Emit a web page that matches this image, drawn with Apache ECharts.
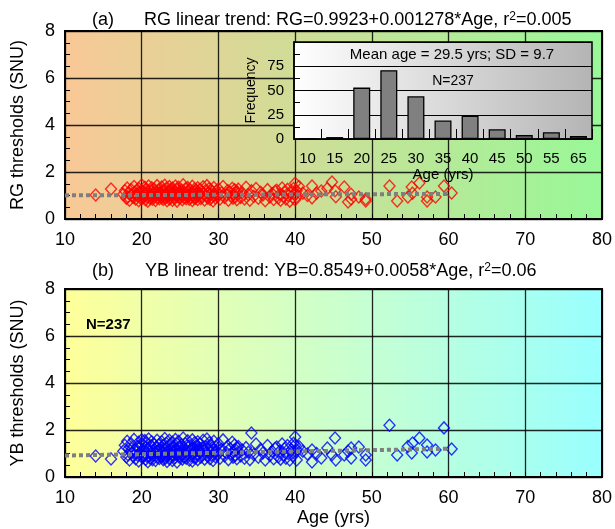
<!DOCTYPE html>
<html><head><meta charset="utf-8">
<script src="https://cdn.jsdelivr.net/npm/echarts@6/dist/echarts.min.js"></script>
<style>html,body{margin:0;padding:0;background:#fff}#c{width:615px;height:529px}</style>
</head><body><div id="c"></div>
<script>
// ---- data ----
const ages = [
14.0, 16.0,
17.6, 17.8, 18.0, 18.1, 18.2, 18.3, 18.4, 18.6, 18.7, 18.9, 19.0, 19.1, 19.2, 19.3, 19.4, 19.5, 19.6, 19.6, 19.7, 19.8, 19.9, 20.0, 20.1, 20.1, 20.2, 20.3, 20.4, 20.5, 20.5, 20.6, 20.7, 20.8, 20.8, 20.9, 21.0, 21.1, 21.2, 21.2, 21.3, 21.4, 21.5, 21.6, 21.6, 21.7, 21.8, 21.9, 22.0, 22.0, 22.1, 22.2, 22.3, 22.3, 22.4,
22.5, 22.6, 22.6, 22.7, 22.8, 22.8, 22.9, 23.0, 23.0, 23.1, 23.2, 23.2, 23.3, 23.4, 23.4, 23.5, 23.6, 23.6, 23.7, 23.8, 23.8, 23.9, 24.0, 24.0, 24.1, 24.2, 24.2, 24.3, 24.4, 24.4, 24.5, 24.6, 24.6, 24.7, 24.8, 24.8, 24.9, 25.0, 25.0, 25.1, 25.2, 25.3, 25.4, 25.4, 25.5, 25.6, 25.7, 25.8, 25.8, 25.9, 26.0, 26.1, 26.2, 26.2, 26.3, 26.4, 26.5, 26.6, 26.6, 26.7, 26.8, 26.9, 26.9, 27.0, 27.0, 27.1, 27.2, 27.3, 27.3, 27.4, 27.4,
27.5, 27.6, 27.7, 27.8, 27.9, 28.0, 28.1, 28.2, 28.3, 28.4, 28.5, 28.6, 28.7, 28.8, 28.9, 29.0, 29.0, 29.1, 29.2, 29.3, 29.4, 29.5, 29.6, 29.7, 29.8, 29.9, 30.0, 30.2, 30.4, 30.6, 30.8, 31.0, 31.2, 31.3, 31.5, 31.7, 31.8, 31.9, 32.0, 32.1, 32.2, 32.3, 32.4, 32.4,
32.6, 32.9, 33.1, 33.4, 33.6, 33.9, 34.1, 34.3, 34.6, 34.9, 35.2, 35.5, 35.8, 36.1, 36.4, 36.7, 37.0, 37.2, 37.4,
37.6, 37.8, 38.0, 38.1, 38.3, 38.5, 38.6, 38.8, 39.0, 39.1, 39.3, 39.5, 39.7, 39.8, 40.0, 40.0, 40.1, 40.2, 40.2, 40.5, 41.0, 41.6, 42.2, 42.2,
42.8, 43.4, 44.2, 44.8, 45.2, 45.3, 46.4, 46.9, 47.3, 47.3,
48.3, 49.2, 49.2, 52.3,
53.3, 54.7, 55.2, 55.3, 56.2, 57.2, 57.2,
58.3, 59.4, 60.4
];
const rgValues = [
1.02, 1.28,
1.05, 1.20, 0.88, 1.32, 0.95, 1.10, 0.80, 1.25, 1.00, 0.92,
1.38, 1.15, 0.85, 1.05, 1.22, 0.97, 1.30, 0.78, 1.12, 0.90,
1.02, 1.45, 0.88, 1.18, 0.95, 1.08, 1.35, 0.82, 1.00, 1.26,
0.93, 1.14, 0.76, 1.40, 1.03, 0.87, 1.21, 0.98, 1.33, 0.84,
1.10, 0.94, 1.28, 1.06, 0.79, 1.17, 1.42, 0.91, 1.04, 1.24,
0.86, 1.12, 0.99,
1.08, 0.90, 1.36, 1.00, 0.83, 1.22, 1.14, 0.95, 1.44, 0.88,
1.05, 1.30, 0.78, 1.18, 0.97, 1.10, 1.38, 0.85, 1.02, 1.25,
0.92, 1.15, 0.80, 1.32, 1.06, 0.94, 1.20, 0.87, 1.40, 1.00,
1.12, 0.76, 1.27, 0.98, 1.08, 1.35, 0.89, 1.17, 0.95, 1.04,
1.23, 0.82, 1.46, 1.01, 0.91, 1.13, 1.29, 0.86, 1.07, 0.96,
1.34, 1.19, 0.84, 1.03, 1.24, 0.93, 1.11, 0.79, 1.39, 1.00,
0.90, 1.16, 1.28, 0.88, 1.05, 1.21, 0.97, 1.33, 0.83, 1.09,
1.14,
1.02, 1.26, 0.87, 1.15, 0.95, 1.37, 1.08, 0.81, 1.20, 0.99,
1.42, 0.90, 1.11, 1.30, 0.84, 1.05, 1.23, 0.93, 1.16, 0.77,
1.34, 1.00, 0.89, 1.18, 1.07, 0.96, 1.28, 0.85, 1.12, 1.38,
0.92, 1.03, 1.21, 0.80, 1.14, 0.97, 1.31, 0.88, 1.06, 1.24,
0.94, 1.10, 0.82, 1.17,
1.27, 0.92, 1.12, 0.85, 1.35, 1.03, 0.80, 1.20, 0.97, 1.30, 0.88, 1.14, 1.02, 0.78, 1.25, 0.94, 1.08, 0.83, 1.18,
1.22, 0.90, 1.05, 0.80, 1.32, 0.96, 1.15, 0.85, 1.26, 1.00, 0.76, 1.12, 0.93, 1.30, 1.52, 0.82, 1.08, 1.20, 0.95, 1.38, 1.10, 1.00, 1.40, 0.90,
1.10, 1.19, 1.30, 1.57, 1.20, 0.95, 1.36, 0.72, 1.05, 0.85,
0.94, 0.77, 0.85, 1.40,
0.77, 0.94, 1.36, 1.10, 1.53, 0.94, 0.77,
0.94, 1.40, 1.11
];
const ybValues = [
0.89, 0.77,
1.10, 1.35, 0.85, 1.52, 0.95, 1.20, 0.72, 1.42, 1.02, 0.88,
1.60, 1.15, 0.78, 1.05, 1.30, 0.92, 1.48, 0.68, 1.25, 0.98,
1.08, 1.58, 0.82, 1.38, 0.90, 1.18, 1.55, 0.75, 1.00, 1.45,
0.87, 1.22, 0.65, 1.62, 1.06, 0.80, 1.33, 0.96, 1.50, 0.74,
1.12, 0.93, 1.40, 1.04, 0.70, 1.28, 1.56, 0.84, 1.08, 1.36,
0.79, 1.16, 0.97,
1.14, 0.86, 1.50, 1.00, 0.74, 1.34, 1.20, 0.90, 1.64, 0.80,
1.06, 1.44, 0.66, 1.26, 0.94, 1.12, 1.56, 0.78, 1.02, 1.38,
0.88, 1.22, 0.70, 1.48, 1.08, 0.92, 1.30, 0.82, 1.60, 0.98,
1.18, 0.64, 1.40, 0.96, 1.10, 1.52, 0.84, 1.24, 0.90, 1.04,
1.36, 0.76, 1.66, 1.00, 0.86, 1.16, 1.42, 0.80, 1.12, 0.94,
1.54, 1.28, 0.72, 1.06, 1.34, 0.88, 1.20, 0.68, 1.58, 1.02,
0.84, 1.24, 1.46, 0.82, 1.08, 1.32, 0.96, 1.50, 0.74, 1.14,
1.22,
1.06, 1.40, 0.84, 1.22, 0.94, 1.56, 1.12, 0.76, 1.30, 1.00,
1.62, 0.88, 1.16, 1.46, 0.78, 1.08, 1.34, 0.92, 1.24, 0.70,
1.52, 1.02, 0.86, 1.28, 1.10, 0.96, 1.42, 0.80, 1.18, 1.58,
0.90, 1.04, 1.32, 0.74, 1.20, 0.98, 1.48, 0.84, 1.12, 1.36,
0.92, 1.14, 0.78, 1.26,
1.30, 0.90, 1.15, 0.80, 1.25, 1.05, 0.74, 1.87, 0.96, 1.40, 0.84, 1.18, 1.02, 0.72, 1.34, 0.92, 1.10, 0.78, 1.22,
1.28, 0.86, 1.10, 0.76, 1.40, 0.94, 1.20, 0.80, 1.34, 1.00, 0.72, 1.16, 0.90, 1.44, 1.70, 1.36, 1.06, 0.72, 1.15, 1.30, 1.10, 0.98, 1.15, 0.64,
1.00, 0.81, 1.23, 0.95, 1.66, 0.72, 0.94, 1.10, 1.23, 0.81,
1.28, 0.94, 0.72, 2.20,
0.94, 1.30, 1.02, 1.45, 1.66, 1.36, 1.06,
1.15, 2.09, 1.19
];
const histCategories = ['10','15','20','25','30','35','40','45','50','55','65'];
const histCounts = [0, 2, 53, 71, 44, 19, 24, 10, 4, 7, 3];
const rgTrend = {intercept: 0.9923, slope: 0.001278};
const ybTrend = {intercept: 0.8549, slope: 0.0058};
const trendAges = [10, 60];

// ---- chart ----
const FONT = '"Liberation Sans", Arial, Helvetica, sans-serif';
const chart = echarts.init(document.getElementById('c'), null, {renderer: 'canvas'});
const lin = (c1, c2) => new echarts.graphic.LinearGradient(0, 0, 1, 0, [{offset: 0, color: c1}, {offset: 1, color: c2}]);

function mainX(gi, showName) {
  return {
    type: 'value', gridIndex: gi, min: 10, max: 80, interval: 10, z: 1,
    name: showName ? 'Age (yrs)' : '', nameLocation: 'middle', nameGap: 32,
    nameTextStyle: {fontFamily: FONT, fontSize: 18, color: '#000'},
    axisLine: {show: true, lineStyle: {color: '#000', width: 2}},
    axisTick: {show: true, inside: true, length: 5, lineStyle: {color: '#000', width: 1}},
    minorTick: {show: true, splitNumber: 5, length: 5, lineStyle: {color: '#000', width: 1}},
    splitLine: {show: true, lineStyle: {color: '#000', width: 1.3, opacity: 0.85}},
    axisLabel: {fontFamily: FONT, fontSize: 18, color: '#000', margin: 12}
  };
}
function mainY(gi, name) {
  return {
    type: 'value', gridIndex: gi, min: 0, max: 8, interval: 2, z: 1,
    name: name, nameLocation: 'middle', nameGap: 38,
    nameTextStyle: {fontFamily: FONT, fontSize: 18, color: '#000'},
    axisLine: {show: true, lineStyle: {color: '#000', width: 2}},
    axisTick: {show: true, inside: true, length: 5, lineStyle: {color: '#000', width: 1}},
    minorTick: {show: true, splitNumber: 4, length: 5, lineStyle: {color: '#000', width: 1}},
    splitLine: {show: true, lineStyle: {color: '#000', width: 1.3, opacity: 0.85}},
    axisLabel: {fontFamily: FONT, fontSize: 18, color: '#000', margin: 10}
  };
}
const titleStyle = {fontFamily: FONT, fontSize: 18, fontWeight: 'normal', color: '#000',
  rich: {sup: {fontFamily: FONT, fontSize: 12, verticalAlign: 'top', color: '#000', padding: [0, 0, 6, 0]}}};

const option = {
  animation: false,
  backgroundColor: '#fff',
  title: [
    {text: '(a)', left: 87, top: 6, textStyle: titleStyle},
    {text: 'RG linear trend: RG=0.9923+0.001278*Age, r{sup|2}=0.005', left: 139, top: 6, textStyle: titleStyle},
    {text: '(b)', left: 87, top: 257, textStyle: titleStyle},
    {text: 'YB linear trend: YB=0.8549+0.0058*Age, r{sup|2}=0.06', left: 140, top: 257, textStyle: titleStyle}
  ],
  grid: [
    {left: 65, top: 31, width: 538, height: 188, show: true, z: 0, borderColor: '#000', borderWidth: 2,
     backgroundColor: lin('#f9c896', '#98f898')},
    {left: 65, top: 289, width: 538, height: 188, show: true, z: 0, borderColor: '#000', borderWidth: 2,
     backgroundColor: lin('#ffff99', '#99ffff')},
    {left: 294, top: 42, width: 298, height: 97, show: true, z: 5, borderColor: '#000', borderWidth: 1.5,
     backgroundColor: lin('#ffffff', '#b4b4b4')}
  ],
  xAxis: [
    mainX(0, false),
    mainX(1, true),
    {
      type: 'category', gridIndex: 2, data: histCategories, boundaryGap: true, z: 6,
      name: 'Age (yrs)', nameLocation: 'middle', nameGap: 27,
      nameTextStyle: {fontFamily: FONT, fontSize: 15, color: '#000'},
      axisLine: {show: true, lineStyle: {color: '#000', width: 1.5}},
      axisTick: {show: true, inside: true, length: 10, alignWithLabel: false, lineStyle: {color: '#000', width: 1}},
      axisLabel: {fontFamily: FONT, fontSize: 15, color: '#000', margin: 12, interval: 0},
      splitLine: {show: false}
    }
  ],
  yAxis: [
    mainY(0, 'RG thresholds (SNU)'),
    mainY(1, 'YB thresholds (SNU)'),
    {
      type: 'value', gridIndex: 2, min: 0, max: 100, interval: 25, z: 6,
      name: 'Frequency', nameLocation: 'middle', nameGap: 36,
      nameTextStyle: {fontFamily: FONT, fontSize: 14, color: '#000'},
      axisLine: {show: true, lineStyle: {color: '#000', width: 1.5}},
      axisTick: {show: true, inside: true, length: 6, lineStyle: {color: '#000', width: 1}},
      minorTick: {show: true, splitNumber: 2, length: 6, lineStyle: {color: '#000', width: 1}},
      splitLine: {show: true, lineStyle: {color: '#000', width: 1}},
      axisLabel: {fontFamily: FONT, fontSize: 15, color: '#000', margin: 10,
        formatter: v => (v === 100 ? '' : String(v))}
    }
  ],
  series: [
    {
      type: 'scatter', xAxisIndex: 0, yAxisIndex: 0, z: 2,
      data: ages.map((a, i) => [a, rgValues[i]]),
      symbol: 'diamond', symbolSize: [11, 12],
      itemStyle: {color: 'rgba(0,0,0,0)', borderColor: '#ff0000', borderWidth: 1.4}
    },
    {
      type: 'line', xAxisIndex: 0, yAxisIndex: 0, z: 3, symbol: 'none',
      data: trendAges.map(a => [a, rgTrend.intercept + rgTrend.slope * a]),
      lineStyle: {color: '#7f7f7f', width: 4, type: [4, 3]}
    },
    {
      type: 'scatter', xAxisIndex: 1, yAxisIndex: 1, z: 2,
      data: ages.map((a, i) => [a, ybValues[i]]),
      symbol: 'diamond', symbolSize: [11, 12],
      itemStyle: {color: 'rgba(0,0,0,0)', borderColor: '#0000ff', borderWidth: 1.4}
    },
    {
      type: 'line', xAxisIndex: 1, yAxisIndex: 1, z: 3, symbol: 'none',
      data: trendAges.map(a => [a, ybTrend.intercept + ybTrend.slope * a]),
      lineStyle: {color: '#7f7f7f', width: 4, type: [4, 3]}
    },
    {
      type: 'bar', xAxisIndex: 2, yAxisIndex: 2, z: 7, barWidth: 17,
      data: histCounts,
      itemStyle: {color: '#808080', borderColor: '#000', borderWidth: 1.3}
    }
  ],
  graphic: [
    {type: 'text', z: 100, style: {text: 'Mean age = 29.5 yrs; SD = 9.7', font: '15px ' + FONT, fill: '#000', align: 'center', verticalAlign: 'middle'}, x: 452, y: 55},
    {type: 'text', z: 100, style: {text: 'N=237', font: '14px ' + FONT, fill: '#000', align: 'center', verticalAlign: 'middle'}, x: 453, y: 81},
    {type: 'text', z: 100, style: {text: 'N=237', font: 'bold 15px ' + FONT, fill: '#000', align: 'left', verticalAlign: 'middle'}, x: 86, y: 325}
  ]
};
chart.setOption(option);
</script></body></html>
